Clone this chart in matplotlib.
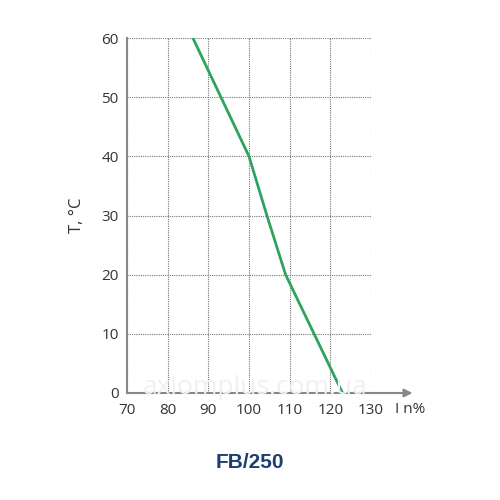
import matplotlib.pyplot as plt

# current (% of rated) vs temperature
current_pct = [86.2, 93.1, 100.0, 104.4, 109.0, 116.0, 123.0]
temp_c = [60, 50, 40, 30, 20, 10, 0]

x_ticks = [70, 80, 90, 100, 110, 120, 130]
y_ticks = [0, 10, 20, 30, 40, 50, 60]

plt.rcParams['font.family'] = ['Open Sans', 'DejaVu Sans']

fig = plt.figure(figsize=(5, 5), dpi=100)
ax = fig.add_axes([0.254, 0.214, 0.488, 0.71])

ax.plot(current_pct, temp_c, color='#2ea35f', linewidth=2, zorder=3)

ax.set_xlim(70, 130)
ax.set_ylim(0, 60)
ax.set_xticks(x_ticks)
ax.set_yticks(y_ticks)
ax.tick_params(axis='both', length=0, labelsize=11, colors='#333333')
ax.tick_params(axis='x', pad=7)
ax.tick_params(axis='y', pad=6)
ax.grid(True, color='#777777', linestyle=(0, (1, 1)), linewidth=0.8)

for s in ['top', 'right', 'bottom']:
    ax.spines[s].set_visible(False)
ax.spines['left'].set_color('#888888')
ax.spines['left'].set_linewidth(1.5)

# x axis with arrow
ax.annotate('', xy=(1.17, 0), xytext=(0, 0), xycoords='axes fraction',
            arrowprops=dict(arrowstyle='-|>', color='#888888', lw=1.5,
                            mutation_scale=12, shrinkA=0, shrinkB=0),
            annotation_clip=False)

ax.text(1.16, -0.047, 'I n%', transform=ax.transAxes, fontsize=11,
        color='#333333', ha='center', va='center')
ax.set_ylabel('T, °C', fontsize=12, color='#333333', labelpad=12)

fig.text(0.5, 0.074, 'FB/250', fontsize=15, fontweight='bold',
         color='#1d3f70', ha='center', va='center', family='Liberation Sans')

# faint watermark
fig.text(0.51, 0.226, 'axiomplus.com.ua', fontsize=19, color='#f0f0f0',
         ha='center', va='center', zorder=0)

plt.savefig('out.png', dpi=100)
